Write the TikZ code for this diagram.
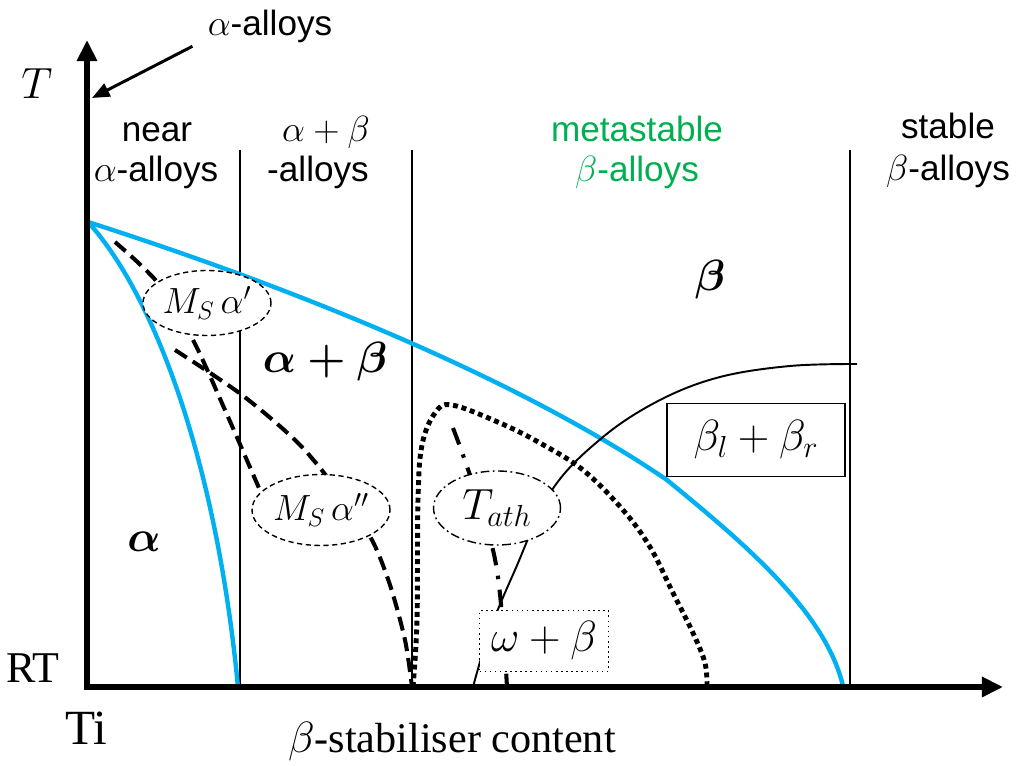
\documentclass[tikz,border=0pt]{standalone}
\usepackage{amsmath}
\usepackage{fontspec}
\setmainfont{Liberation Serif}
\setsansfont{Liberation Sans}
\usetikzlibrary{arrows.meta,positioning,shapes.geometric}
\definecolor{transus}{HTML}{00B0F0}
\definecolor{metagreen}{HTML}{00B050}

\begin{document}
\begin{tikzpicture}[x=0.02cm,y=-0.02cm,
			axis/.style={line width=3.4pt,-{Triangle[length=12pt,width=11pt]}},
			pointer/.style={line width=1.7pt,-{Triangle[length=10pt,width=8pt]}},
			divider/.style={line width=1.1pt},
			transusline/.style={transus,line width=2.5pt},
			martens/.style={line width=2.3pt,dash pattern=on 8pt off 4pt},
			omegaline/.style={line width=2.8pt,dash pattern=on 2.8pt off 2.2pt},
			athline/.style={line width=2.3pt,dash pattern=on 10pt off 6pt on 2pt off 6pt},
			gapline/.style={line width=1.1pt},
			grp/.style={font=\sffamily\fontsize{20}{24}\selectfont,anchor=base,inner sep=0pt},
			phase/.style={font=\fontsize{25}{30}\selectfont},
			msnode/.style={ellipse,draw,fill=white,line width=0.8pt,dash pattern=on 3pt off 2pt,inner sep=0pt,font=\fontsize{22}{26}\selectfont},
			athnode/.style={ellipse,draw,fill=white,line width=0.8pt,dash pattern=on 5pt off 2pt on 1pt off 2pt,inner sep=0pt,font=\fontsize{24}{28}\selectfont},
			boxdot/.style={rectangle,draw,fill=white,line width=0.9pt,dotted,inner sep=0pt,font=\fontsize{24}{28}\selectfont},
			boxsolid/.style={rectangle,draw,fill=white,line width=1.1pt,inner sep=0pt,font=\fontsize{25}{30}\selectfont}
			]
			\useasboundingbox (0,0) rectangle (1019,766);
			% alloy classes
			\node[grp] (aAlloy) at (270,36) {$\alpha$-alloys};
			\node[grp] (nearA) at (157,142) {near};
			\node[grp] (nearB) at (156,182) {$\alpha$-alloys};
			\node[grp] (abA) at (326,142) {$\alpha+\beta$};
			\node[grp] (abB) at (318,182) {-alloys};
			\node[grp,text=metagreen] (metaA) at (637,142) {metastable};
			\node[grp,text=metagreen] (metaB) at (637,182) {$\beta$-alloys};
			\node[grp] (stabA) at (948,139) {stable};
			\node[grp] (stabB) at (948,181) {$\beta$-alloys};
			\draw[divider] (240,150) -- (240,687);
			\draw[divider] (412,150) -- (412,687);
			\draw[divider] (850,150) -- (850,687);
			% phase boundaries
			\draw[transusline] (88,222) .. controls (300,290) and (520,380) .. (667,480)
				.. controls (740,540) and (825,610) .. (843,686);
			\draw[transusline] (88,222) .. controls (150,290) and (215,450) .. (238,687);
			\draw[martens] plot[smooth] coordinates {(115,242) (158,283) (193,340) (225,410) (262,495)};
			\draw[martens] plot[smooth] coordinates {(175,350) (242,395) (300,445) (345,500) (372,540) (390,585) (405,640) (412,687)};
			\draw[omegaline] plot[smooth,tension=0.6] coordinates {(413,687) (417,620) (418,500) (422,445) (435,413) (452,405) (500,423) (540,443) (583,470) (623,510) (650,547) (673,593) (693,633) (705,663) (707,687)};
			\draw[athline] plot[smooth] coordinates {(453,428) (463,455) (480,505) (493,550) (499,585) (504,640) (507,687)};
			\draw[gapline] plot[smooth,tension=0.6] coordinates {(473,687) (490,630) (515,570) (552,490) (603,437) (660,400) (720,377) (790,366) (857,364)};
			% labels
			\node[msnode,minimum width=2.56cm,minimum height=1.3cm] (msA) at (207,303) {$M_S\,\alpha'$};
			\node[msnode,minimum width=2.76cm,minimum height=1.42cm] (msB) at (321,510) {$M_S\,\alpha''$};
			\node[athnode,minimum width=2.54cm,minimum height=1.48cm] (ath) at (497,508) {$T_{ath}$};
			\node[boxdot,minimum width=2.58cm,minimum height=1.22cm] (omb) at (544,641) {$\omega+\beta$};
			\node[boxsolid,minimum width=3.56cm,minimum height=1.46cm] (blbr) at (756,440) {$\beta_l+\beta_r$};
			\node[phase] (pb) at (710,280) {$\boldsymbol{\beta}$};
			\node[phase] (pab) at (325,362) {$\boldsymbol{\alpha+\beta}$};
			\node[phase] (pa) at (144,542) {$\boldsymbol{\alpha}$};
			% axes
			\node[font=\fontsize{28}{32}\selectfont] (tlab) at (37,84) {$T$};
			\node[font=\fontsize{25}{30}\selectfont] (rt) at (33,668) {RT};
			\node[font=\fontsize{28}{32}\selectfont] (ti) at (86,728) {Ti};
			\node[font=\fontsize{24}{28}\selectfont,anchor=base] (xlab) at (452,753) {$\beta$-stabiliser content};
			\coordinate (orig) at (87,687);
			\coordinate (ytop) at (87,40);
			\coordinate (xend) at (1003,687);
			\coordinate (aTip) at (92,98);
			\draw[axis] ([yshift=-1.7pt]orig) -- (ytop);
			\draw[axis] ([xshift=-1.7pt]orig) -- (xend);
			\draw[pointer] ([xshift=-8.5pt,yshift=-1.5pt]aAlloy.south west) -- (aTip);
		\end{tikzpicture}
\end{document}
